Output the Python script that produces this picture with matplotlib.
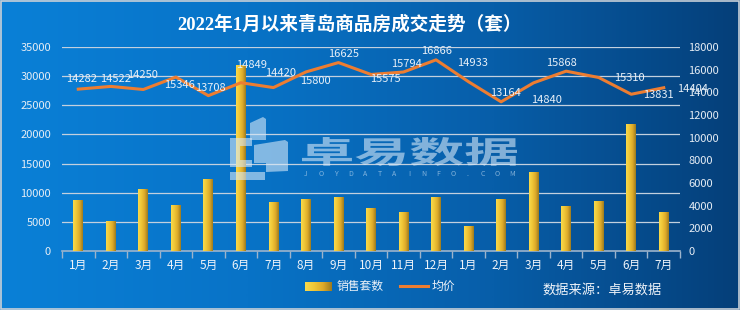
import numpy as np
import matplotlib
matplotlib.use("Agg")
import matplotlib.pyplot as plt
from matplotlib.colors import LinearSegmentedColormap
from matplotlib.patches import Rectangle, Polygon, PathPatch
from matplotlib.lines import Line2D
from matplotlib.textpath import TextPath
from matplotlib.font_manager import FontProperties
from matplotlib.transforms import Affine2D

plt.rcParams['font.family'] = ['Noto Sans CJK SC', 'DejaVu Sans']

# ---------------- data ----------------
months = ["1月", "2月", "3月", "4月", "5月", "6月", "7月", "8月", "9月", "10月",
          "11月", "12月", "1月", "2月", "3月", "4月", "5月", "6月", "7月"]
sales = [8600, 5100, 10600, 7800, 12200, 31800, 8400, 8800, 9200, 7300,
         6600, 9200, 4150, 8800, 13550, 7550, 8500, 21650, 6600]
price = [14282, 14522, 14250, 15346, 13708, 14849, 14420, 15800, 16625, 15575,
         15794, 16866, 14933, 13164, 14840, 15868, 15310, 13831, 14404]
left_ticks = [0, 5000, 10000, 15000, 20000, 25000, 30000, 35000]
right_ticks = [0, 2000, 4000, 6000, 8000, 10000, 12000, 14000, 16000, 18000]
title = "2022年1月以来青岛商品房成交走势（套）"
watermark = "卓易数据"
watermark_sub = "JOYDATAINFO.COM"

# label offsets in pixels (dx, dy) -- style only
label_off = [(3, 10), (5, 7), (-1, 14), (4, -8), (2, 8), (11, 18), (7, 15), (9, -9),
             (5, 9), (14, -5), (3, 8), (1, 9), (4, 19), (4, 9), (13, -17), (-5, 8),
             (31, -1), (27, -1), (29, -1)]

W, H = 740, 310
fig = plt.figure(figsize=(W / 100, H / 100), dpi=100)

# background gradient (pixel coordinates)
bg = fig.add_axes([0, 0, 1, 1], zorder=-10)
bg_cmap = LinearSegmentedColormap.from_list("bg", ["#0a80d7", "#0873c7", "#075ea9", "#053f79"])
grad = np.linspace(0, 1, 512).reshape(1, -1)
bg.imshow(grad, aspect='auto', cmap=bg_cmap, extent=[0, W, H, 0])
bg.set_xlim(0, W); bg.set_ylim(H, 0)
bg.axis('off')
bg.add_patch(Rectangle((0.5, 0.5), W - 1.5, H - 1.5, fill=False, ec="#c8d0d8", lw=1.2))

# main axes
ax = fig.add_axes([62 / W, 1 - 251 / H, (680 - 62) / W, (251 - 47) / H])
ax.patch.set_alpha(0)
x = np.arange(len(months))
for t in left_ticks[1:]:
    ax.axhline(t, color="#c3d0de", lw=0.9, zorder=1)

bar_cmap = LinearSegmentedColormap.from_list("bar", ["#f9da4c", "#f0c737", "#ddaa2a", "#9c7a1f"])
bw = 0.3
bars = ax.bar(x, sales, width=bw, color="none", zorder=3)
for b in bars:
    x0 = b.get_x()
    h = b.get_height()
    ax.imshow(grad, aspect='auto', cmap=bar_cmap, extent=[x0, x0 + bw, 0, h], zorder=3)
ax.set_xlim(-0.5, len(months) - 0.5)
ax.set_ylim(0, 35000)
ax.set_yticks(left_ticks)

for s in ["top", "right", "left"]:
    ax.spines[s].set_visible(False)
ax.spines["bottom"].set_color("#9db4cc")
ax.spines["bottom"].set_linewidth(1.2)
ax.set_xticks(x)
ax.set_xticklabels(months)
ax.set_xticks(np.arange(-0.5, len(months)), minor=True)
ax.tick_params(axis='x', which='major', length=0, pad=6, colors="#eef3f9", labelsize=8.5)
ax.tick_params(axis='x', which='minor', length=5, color="#9db4cc", width=1)
ax.tick_params(axis='y', length=0, pad=8, colors="#e6edf5", labelsize=8)

ax2 = ax.twinx()
ax2.patch.set_alpha(0)
ax2.set_ylim(0, 18000)
ax2.set_yticks(right_ticks)
for s in ["top", "right", "left", "bottom"]:
    ax2.spines[s].set_visible(False)
ax2.tick_params(axis='y', length=0, pad=6, colors="#e6edf5", labelsize=8)
ax2.plot(x, price, color="#ed7d31", lw=2.2, zorder=5, solid_joinstyle='round')
for i, (xi, v) in enumerate(zip(x, price)):
    dx, dy = label_off[i]
    ax2.annotate(str(v), (xi, v), xytext=(dx * 0.72, dy * 0.72), textcoords='offset points',
                 ha='center', va='center', color="#e8f0f8", fontsize=8, zorder=6)

# watermark overlay (pixel coordinates)
ov = fig.add_axes([0, 0, 1, 1], zorder=5)
ov.patch.set_alpha(0)
ov.set_xlim(0, W); ov.set_ylim(H, 0)
ov.axis('off')
wm_col = "#d6e8f8"
wm_alpha = 0.6
logo_parts = [
    [(250, 123), (263, 117), (266, 119), (266, 140), (250, 140)],
    [(230, 138), (252, 138), (252, 146), (240, 146), (240, 160), (252, 160), (252, 167), (230, 167)],
    [(254, 145), (285, 140), (288, 142), (288, 171), (266, 172), (266, 163), (254, 163)],
    [(230, 172), (265, 172), (265, 180), (230, 180)],
]
for pts in logo_parts:
    ov.add_patch(Polygon(pts, closed=True, fc=wm_col, ec="none", alpha=wm_alpha))

tp = TextPath((0, 0), watermark, size=1, prop=FontProperties(family='Noto Sans CJK SC', weight='bold'))
ext = tp.get_extents()
x0w, x1w, y0w, y1w = 302, 517, 137, 166
tr = (Affine2D().translate(-ext.x0, -ext.y0)
      .scale((x1w - x0w) / ext.width, -(y1w - y0w) / ext.height)
      .translate(x0w, y1w))
ov.add_patch(PathPatch(tr.transform_path(tp), fc=wm_col, ec="none", alpha=wm_alpha))
sub_x = np.linspace(306, 512, len(watermark_sub))
for ch, sx in zip(watermark_sub, sub_x):
    ov.text(sx, 174.5, ch, color=wm_col, alpha=wm_alpha, fontsize=5, ha='center', va='center')

# title
fig.text(349 / W, 1 - 24 / H, title, ha='center', va='center', color='white', fontsize=13.4,
         fontweight='bold', family=['Liberation Serif', 'Noto Sans CJK SC'])

# legend
legend_grad_ax = fig.add_axes([305 / W, 1 - 291 / H, 27 / W, 9 / H])
legend_grad_ax.imshow(grad, aspect='auto', cmap=bar_cmap, extent=[0, 1, 0, 1])
legend_grad_ax.axis('off')
fig.text(337 / W, 1 - 286 / H, "销售套数", color="#eef3f9", fontsize=8.5, va='center', ha='left')
fig.add_artist(Line2D([400 / W, 428 / W], [1 - 286 / H, 1 - 286 / H], color="#ed7d31", lw=2.2,
                      transform=fig.transFigure))
fig.text(432 / W, 1 - 286 / H, "均价", color="#eef3f9", fontsize=8.5, va='center', ha='left')
fig.text(542 / W, 1 - 290 / H, "数据来源：卓易数据", color="#eef3f9", fontsize=9.5, va='center', ha='left')

fig.savefig("out.png", dpi=100)
